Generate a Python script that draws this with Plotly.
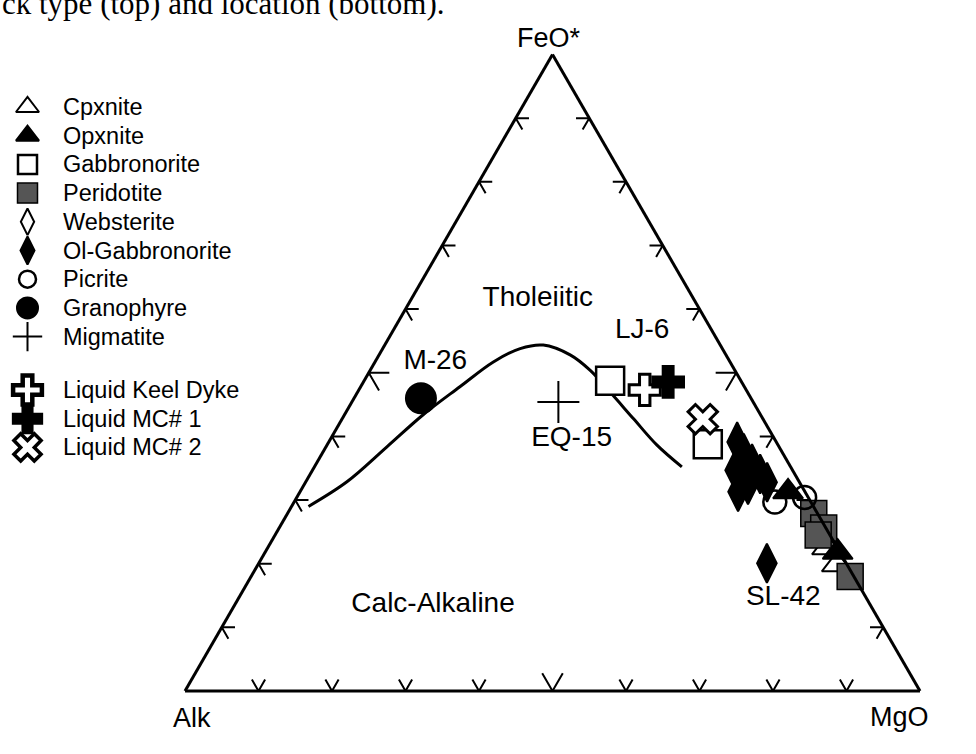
import plotly.graph_objects as go

# AFM ternary: A = Alk, F = FeO*, M = MgO (percent)
FONT = "Liberation Sans"
W, H = 976, 754

cpx_A, cpx_F, cpx_M = [1.4, 1.4], [22.5, 19.8], [76.1, 78.7]
opx_A, opx_F, opx_M = [2.3, 0.3], [31.3, 21.8], [66.4, 77.9]
gab_A, gab_F, gab_M = [17.8, 9.5], [48.8, 38.8], [33.5, 51.8]
per_A, per_F, per_M = [0.5, 0.3, 1.6, 0.5], [27.9, 25.6, 24.5, 18.0], [71.6, 74.1, 73.9, 81.5]
web_A, web_F, web_M = [], [], []
olg_A = [5.3, 5.3, 5.0, 4.7, 4.4, 7.8, 7.2, 9.1, 10.8]
olg_F = [39.1, 37.4, 35.7, 34.1, 32.8, 34.7, 32.4, 31.3, 20.1]
olg_M = [55.5, 57.4, 59.3, 61.2, 62.8, 57.5, 60.4, 59.6, 69.2]
pic_A, pic_F, pic_M = [4.9, 0.5], [29.7, 30.4], [65.4, 69.1]
gra_A, gra_F, gra_M = [44.9], [46.0], [9.1]
mig_A, mig_F, mig_M = [26.5], [45.4], [28.1]
keel_A, keel_F, keel_M = [13.8], [47.3], [38.9]
mc1_A, mc1_F, mc1_M = [10.0], [48.6], [41.5]
mc2_A, mc2_F, mc2_M = [8.2], [42.7], [49.1]

# Tholeiitic / calc-alkaline dividing line
div_A = [68.7, 61.6, 53.4, 45.9, 38.7, 32.2, 27.5, 24.1, 21.2, 19.7, 18.7, 17.6, 16.5, 14.8]
div_F = [29.0, 32.9, 38.4, 43.4, 47.8, 51.7, 53.8, 54.4, 52.8, 50.4, 47.0, 42.8, 38.7, 35.2]
div_M = [2.3, 5.6, 8.3, 10.7, 13.5, 16.1, 18.7, 21.6, 26.0, 29.9, 34.3, 39.6, 44.9, 50.0]

# Field and sample labels
lab_text = ["Tholeiitic", "Calc-Alkaline", "M-26", "EQ-15", "LJ-6", "SL-42"]
lab_A = [21.2, 59.5, 40.1, 27.6, 9.5, 11.3]
lab_F = [61.6, 13.5, 51.7, 39.5, 56.6, 14.6]
lab_M = [17.2, 27.0, 8.2, 32.8, 33.9, 74.1]

tick_vals = [10, 20, 30, 40, 50, 60, 70, 80, 90]
ARM, ARM_MID = 1.8, 2.8   # arrow arm length (percent units); the 50 % tick is larger

# name, values, symbol, fill, outline width, plot size, key size, key outline width
series = [
    ("Cpxnite", (cpx_A, cpx_F, cpx_M), "triangle-up", "white", 2, 26, 20, 2),
    ("Opxnite", (opx_A, opx_F, opx_M), "triangle-up", "black", 2, 26, 20, 2),
    ("Gabbronorite", (gab_A, gab_F, gab_M), "square", "white", 2.5, 28, 19, 2.5),
    ("Peridotite", (per_A, per_F, per_M), "square", "#555555", 1.5, 26, 20, 1.5),
    ("Websterite", (web_A, web_F, web_M), "diamond-tall", "white", 2, 26, 19, 2),
    ("Ol-Gabbronorite", (olg_A, olg_F, olg_M), "diamond-tall", "black", 2, 28, 20, 2),
    ("Picrite", (pic_A, pic_F, pic_M), "circle-open", "black", 2.5, 23, 17, 2.5),
    ("Granophyre", (gra_A, gra_F, gra_M), "circle", "black", 2, 30, 21, 2),
    ("Migmatite", (mig_A, mig_F, mig_M), "cross-thin-open", "black", 2, 30, 21, 2),
    ("Liquid Keel Dyke", (keel_A, keel_F, keel_M), "cross", "white", 3, 26, 24, 4.5),
    ("Liquid MC# 1", (mc1_A, mc1_F, mc1_M), "cross", "black", 2.5, 26, 24, 2.5),
    ("Liquid MC# 2", (mc2_A, mc2_F, mc2_M), "x", "white", 3, 26, 24, 3.5),
]

fig = go.Figure()

# Arrow-style ticks on the three edges
ta, tb, tc = [], [], []
for v in tick_vals:
    d = ARM_MID if v == 50 else ARM
    # left edge (MgO = 0)
    a, b = v, 100 - v
    ta += [a, a, a - d, None]; tb += [b - d, b, b, None]; tc += [d, 0, d, None]
    # bottom edge (FeO* = 0)
    b, c = 100 - v, v
    ta += [d, 0, d, None]; tb += [b, b, b - d, None]; tc += [c - d, c, c, None]
    # right edge (Alk = 0)
    a, c = v, 100 - v
    ta += [a, a, a - d, None]; tb += [d, 0, d, None]; tc += [c - d, c, c, None]
fig.add_trace(go.Scatterternary(a=ta, b=tb, c=tc, mode="lines", line=dict(color="black", width=2),
                                showlegend=False, hoverinfo="skip", cliponaxis=False))

fig.add_trace(go.Scatterternary(a=div_F, b=div_A, c=div_M, mode="lines",
                                line=dict(color="black", width=3, shape="spline", smoothing=1),
                                showlegend=False, hoverinfo="skip", cliponaxis=False))

for name, (A, F, M), sym, fill, lw, size, _, _ in series:
    fig.add_trace(go.Scatterternary(
        a=F, b=A, c=M, mode="markers", name=name, showlegend=False, cliponaxis=False,
        marker=dict(symbol=sym, size=size, color=fill, opacity=1,
                    line=dict(color="black", width=lw))))

fig.add_trace(go.Scatterternary(a=lab_F, b=lab_A, c=lab_M, mode="text", text=lab_text,
                                textfont=dict(family=FONT, size=28, color="black"),
                                showlegend=False, hoverinfo="skip", cliponaxis=False))

# Symbol key at the upper left, laid out on a hidden pixel-scaled axis pair
KEY_X, KEY_TEXT_X, KEY_TOP, KEY_STEP, KEY_GAP = 27.5, 61, 107, 28.7, 24.7
key_y = [KEY_TOP + KEY_STEP * i + (KEY_GAP if i >= 9 else 0) for i in range(len(series))]
fig.add_trace(go.Scatter(
    x=[KEY_X] * len(series), y=key_y, mode="markers", showlegend=False, hoverinfo="skip",
    cliponaxis=False,
    marker=dict(symbol=[s[2] for s in series], color=[s[3] for s in series],
                size=[s[6] for s in series], opacity=1,
                line=dict(color="black", width=[s[7] for s in series]))))
key_notes = [dict(text=s[0], x=KEY_TEXT_X, y=yy, xref="x", yref="y", xanchor="left",
                  yanchor="middle", showarrow=False, font=dict(family=FONT, size=23.5))
             for s, yy in zip(series, key_y)]

ax = dict(showline=True, linecolor="black", linewidth=3, showgrid=False,
          showticklabels=False, ticks="", title=dict(text=""))

fig.update_layout(
    width=W, height=H, margin=dict(l=0, r=0, t=0, b=0),
    paper_bgcolor="white", plot_bgcolor="rgba(0,0,0,0)",
    font=dict(family=FONT, color="black"),
    showlegend=False,
    xaxis=dict(range=[0, W], domain=[0, 1], visible=False, fixedrange=True),
    yaxis=dict(range=[H, 0], domain=[0, 1], visible=False, fixedrange=True),
    ternary=dict(sum=100, bgcolor="white",
                 domain=dict(x=[185 / W, 920 / W], y=[63 / H, 699.5 / H]),
                 aaxis=ax, baxis=ax, caxis=ax),
    annotations=key_notes + [
        dict(text="FeO*", x=548.5 / W, y=1 - 21 / H, xref="paper", yref="paper",
             showarrow=False, font=dict(family=FONT, size=27)),
        dict(text="Alk", x=171 / W, y=1 - 735 / H, xref="paper", yref="paper",
             showarrow=False, font=dict(family=FONT, size=27)),
        dict(text="MgO", x=931 / W, y=1 - 734 / H, xref="paper", yref="paper",
             showarrow=False, font=dict(family=FONT, size=27)),
        dict(text="ck type (top) and location (bottom).", x=0, y=1 - 4 / H, xref="paper", yref="paper",
             xanchor="left", yanchor="middle", showarrow=False,
             font=dict(family="Liberation Serif", size=31)),
    ],
)

fig.write_html("out.html")
